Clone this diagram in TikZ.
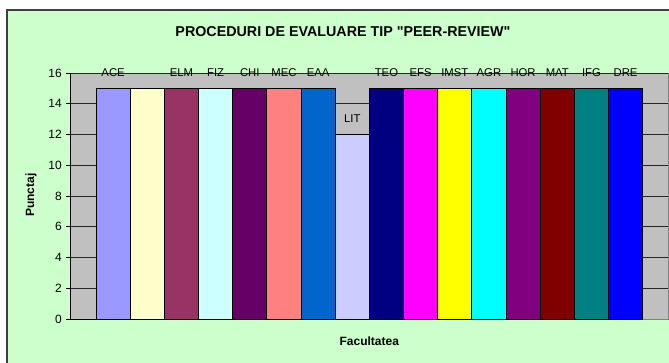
\documentclass[tikz,border=0pt]{standalone}
\usepackage{fontspec}
\setmainfont{Liberation Sans}
\newfontfamily\plainfont{Liberation Sans}
\definecolor{bggreen}{HTML}{CCFFCC}
\definecolor{plotgray}{HTML}{C0C0C0}
\definecolor{framegray}{HTML}{404040}
\definecolor{cACE}{HTML}{9999FF}
\definecolor{cNONE}{HTML}{FFFFCC}
\definecolor{cELM}{HTML}{993366}
\definecolor{cFIZ}{HTML}{CCFFFF}
\definecolor{cCHI}{HTML}{660066}
\definecolor{cMEC}{HTML}{FF8080}
\definecolor{cEAA}{HTML}{0066CC}
\definecolor{cLIT}{HTML}{CCCCFF}
\definecolor{cTEO}{HTML}{000080}
\definecolor{cEFS}{HTML}{FF00FF}
\definecolor{cIMST}{HTML}{FFFF00}
\definecolor{cAGR}{HTML}{00FFFF}
\definecolor{cHOR}{HTML}{800080}
\definecolor{cMAT}{HTML}{800000}
\definecolor{cIFG}{HTML}{008080}
\definecolor{cDRE}{HTML}{0000FF}
\begin{document}
\begin{tikzpicture}[x=1pt,y=-1pt,
  titlestyle/.style={font=\plainfont\fontsize{14.3}{16}\selectfont\bfseries, inner sep=0pt},
  axtitle/.style={font=\fontsize{12}{14}\selectfont\bfseries, inner sep=0pt},
  ticklbl/.style={font=\fontsize{12}{14}\selectfont, anchor=east, inner sep=0pt},
  barlbl/.style={font=\fontsize{11.3}{13}\selectfont, inner sep=0pt},
  gridline/.style={draw=black!85, line width=0.8pt},
  barstyle/.style={draw=black, line width=0.8pt}]
\useasboundingbox (0,0) rectangle (669,363);
\clip (0,0) rectangle (669,363);
\fill[white] (0,0) rectangle (669,363);
% chart area
\draw[fill=bggreen, draw=framegray, line width=2pt] (7,10) rectangle (700,400);
\node[titlestyle] (title) at (343,31.2) {PROCEDURI DE EVALUARE TIP "PEER-REVIEW"};
% plot area (back wall)
\fill[plotgray] (70,73) rectangle (668,319);
\draw[draw=gray, line width=0.8pt] (70,319) -- (668,319) -- (668,73);
% gridlines and ticks
\foreach \v in {2,4,...,16} {
  \draw[gridline] (70,{319-\v*15.375}) -- (668,{319-\v*15.375});
}
\foreach \v in {0,2,...,16} {
  \draw[line width=0.8pt] (66,{319-\v*15.375}) -- (70,{319-\v*15.375});
  \node[ticklbl] (t\v) at (62,{319-\v*15.375}) {\v};
}
% bars
\foreach \c/\h/\t [count=\i from 0] in {cACE/15/ACE, cNONE/15/, cELM/15/ELM, cFIZ/15/FIZ, cCHI/15/CHI, cMEC/15/MEC, cEAA/15/EAA, cLIT/12/LIT, cTEO/15/TEO, cEFS/15/EFS, cIMST/15/IMST, cAGR/15/AGR, cHOR/15/HOR, cMAT/15/MAT, cIFG/15/IFG, cDRE/15/DRE} {
  \draw[barstyle, fill=\c] ({96+\i*34.167},319) rectangle ({96+(\i+1)*34.167},{319-\h*15.375});
  \node[barlbl] (b\i) at ({96+(\i+0.5)*34.167},{319-\h*15.375-15.5}) {\t};
}
% axes
\draw[line width=0.8pt] (70,73) -- (70,319);
\draw[line width=0.8pt] (70,319) -- (642.7,319);
% axis titles
\node[axtitle, rotate=90] (ytitle) at (31,195) {Punctaj};
\node[axtitle] (xtitle) at (369.3,341.7) {Facultatea};
\end{tikzpicture}
\end{document}
